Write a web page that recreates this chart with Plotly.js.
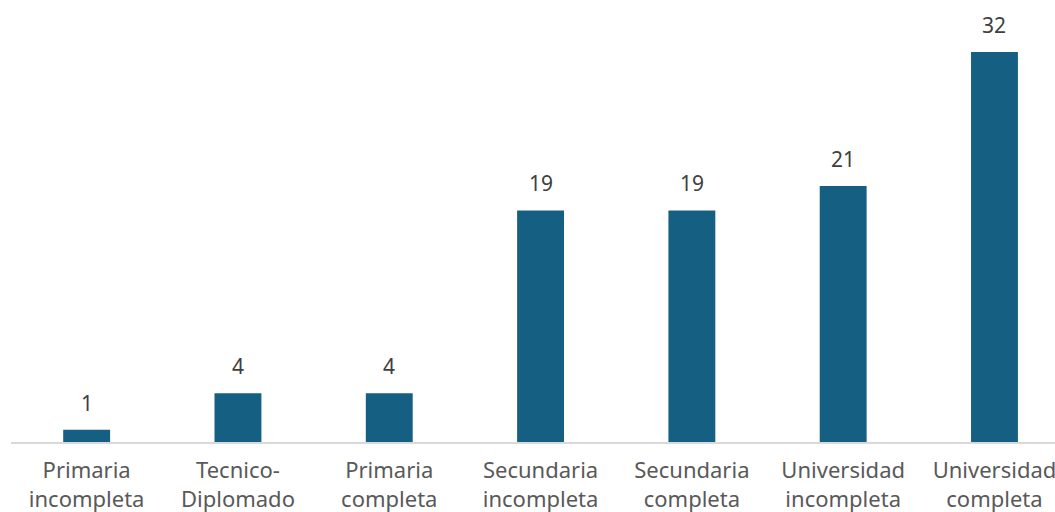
<!DOCTYPE html>
<html>
<head>
<meta charset="utf-8">
<script src="https://cdn.plot.ly/plotly-3.0.1.min.js"></script>
<style>html,body{margin:0;padding:0;background:#fff;}#chart{width:1055px;height:512px;}</style>
</head>
<body>
<div id="chart"></div>
<script>
const categories = ["Primaria<br>incompleta", "Tecnico-<br>Diplomado", "Primaria<br>completa", "Secundaria<br>incompleta", "Secundaria<br>completa", "Universidad<br>incompleta", "Universidad<br>completa"];
const values = [1, 4, 4, 19, 19, 21, 32];

const xs = categories.map((c, i) => i);

const trace = {
  type: "bar",
  x: xs,
  y: values,
  width: 0.31,
  marker: {color: "#156082"},
  cliponaxis: false,
  hoverinfo: "none"
};

const annotations = values.map((v, i) => ({
  x: xs[i], y: v, xref: "x", yref: "y",
  text: String(v), showarrow: false,
  yanchor: "bottom", xanchor: "center", yshift: 11,
  font: {family: "Noto Sans, sans-serif", size: 21, color: "#404040"}
}));

const layout = {
  width: 1055, height: 512,
  margin: {l: 11, r: 0, t: 0, b: 70},
  paper_bgcolor: "#ffffff", plot_bgcolor: "#ffffff",
  showlegend: false,
  font: {family: "Noto Sans, sans-serif", size: 22, color: "#595959"},
  annotations: annotations,
  xaxis: {
    range: [-0.5, 6.4],
    tickmode: "array",
    tickvals: xs,
    ticktext: categories,
    showgrid: false, zeroline: false,
    showline: true, linecolor: "#d9d9d9", linewidth: 1.5,
    ticks: "", ticklen: 0, ticklabelstandoff: 8,
    ticklabeloverflow: "allow",
    tickfont: {family: "Noto Sans, sans-serif", size: 22, color: "#595959"}
  },
  yaxis: {
    range: [0, 36.26],
    visible: false, showgrid: false, zeroline: false
  }
};

Plotly.newPlot("chart", [trace], layout, {displayModeBar: false, staticPlot: true});
</script>
</body>
</html>
